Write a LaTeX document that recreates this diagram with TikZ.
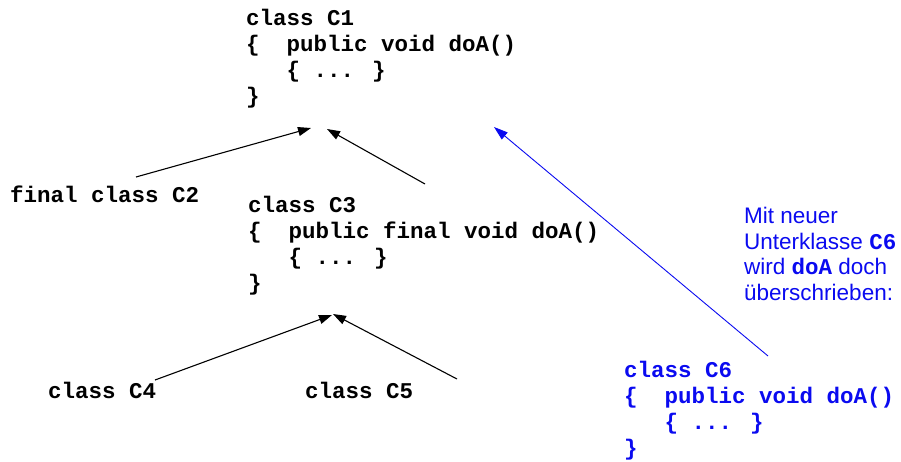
\documentclass[tikz,border=0pt]{standalone}
\usepackage{fontspec}
\newfontfamily\monofam{Liberation Mono}
\newfontfamily\arialfam{Liberation Sans}
\usetikzlibrary{arrows.meta}
\definecolor{myblue}{RGB}{10,10,240}
\tikzset{
  codebox/.style={anchor=base west, inner sep=0pt, align=left,
    font=\monofam\bfseries\fontsize{22.5}{26}\selectfont},
  notebox/.style={anchor=base west, inner sep=0pt, align=left,
    font=\arialfam\fontsize{22.5}{25.5}\selectfont, text=myblue},
  inherit/.style={line width=1.1pt, -{Triangle[length=13pt,width=9pt]}},
  inheritblue/.style={line width=0.9pt, draw=myblue, -{Triangle[length=14pt,width=9pt]}, myblue}
}
\newcommand{\mymono}[1]{{\monofam\bfseries #1}}
\begin{document}
\begin{tikzpicture}[x=1pt,y=-1pt]
\useasboundingbox (0,0) rectangle (901,461);
% class blocks (base anchor = baseline of the last line)
\node[codebox] (c1) at (246,103) {class C1\\\{\ \ public void doA()\\\ \ \ \{ ... \}\\\}};
\node[codebox] (c2) at (10,202) {final class C2};
\node[codebox] (c3) at (248,290) {class C3\\\{\ \ public final void doA()\\\ \ \ \{ ... \}\\\}};
\node[codebox] (c4) at (48,398) {class C4};
\node[codebox] (c5) at (305,398) {class C5};
\node[codebox, text=myblue] (c6) at (624,455) {class C6\\\{\ \ public void doA()\\\ \ \ \{ ... \}\\\}};
\node[notebox] (note) at (744,300) {Mit neuer\\Unterklasse \mymono{C6}\\wird \mymono{doA} doch\\überschrieben:};
% connector end points
\coordinate (c2from) at (136,177);
\coordinate (c1inA) at (311,128);
\coordinate (c3from) at (425,184);
\coordinate (c1inB) at (327,129);
\coordinate (c4from) at (155,380);
\coordinate (c3inA) at (332,315);
\coordinate (c5from) at (457,379);
\coordinate (c3inB) at (333,314);
\coordinate (c6from) at (768,356);
\coordinate (c1inC) at (494,127);
% connectors
\draw[inherit] (c2from) -- (c1inA);
\draw[inherit] (c3from) -- (c1inB);
\draw[inherit] (c4from) -- (c3inA);
\draw[inherit] (c5from) -- (c3inB);
\draw[inheritblue] (c6from) -- (c1inC);
\end{tikzpicture}
\end{document}
